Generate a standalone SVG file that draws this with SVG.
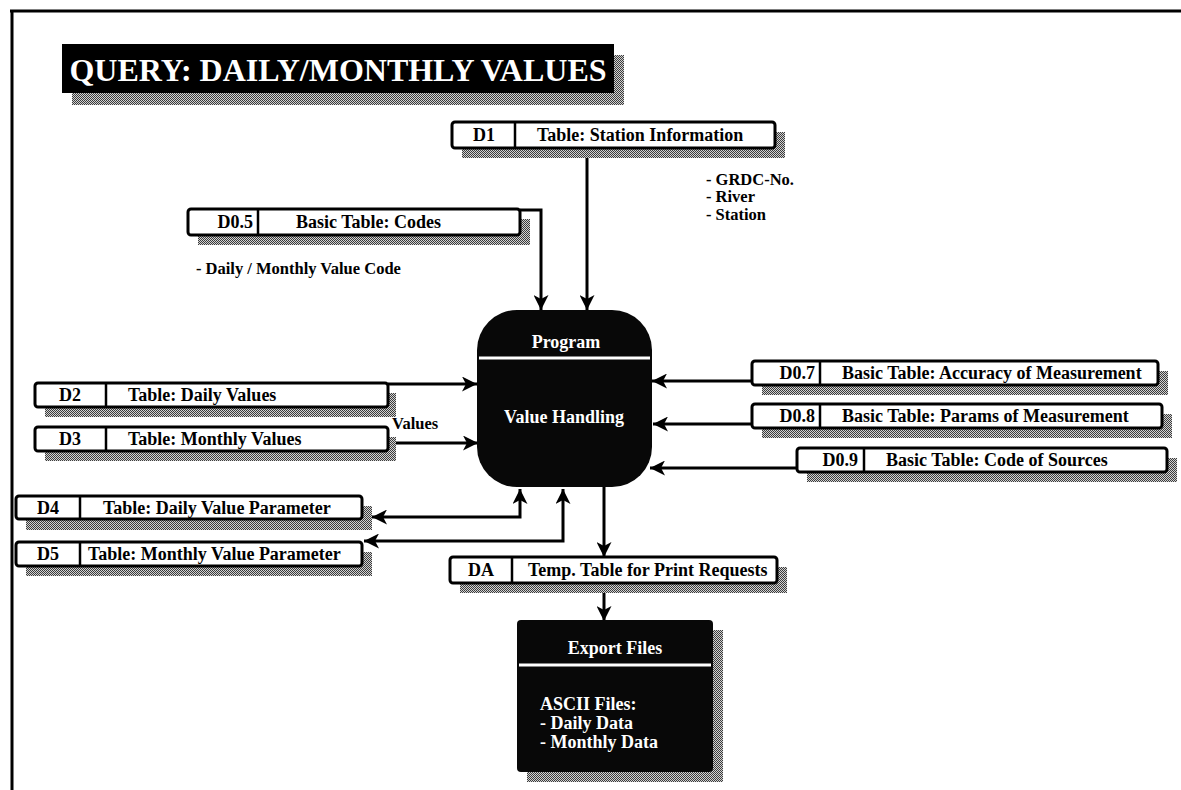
<svg xmlns="http://www.w3.org/2000/svg" width="1181" height="790" viewBox="0 0 1181 790">
  <defs>
    <!-- halftone grey used for drop shadows -->
    <pattern id="dither" width="2" height="2" patternUnits="userSpaceOnUse">
      <rect width="2" height="2" fill="#d2d2d2"/>
      <rect x="0" y="0" width="1" height="1" fill="#3c3c3c"/>
      <rect x="1" y="1" width="1" height="1" fill="#3c3c3c"/>
    </pattern>
    <marker id="arrow" markerUnits="userSpaceOnUse" markerWidth="16" markerHeight="15" refX="15" refY="7.5" orient="auto">
      <path d="M0,0 L15,7.5 L0,15 L4,7.5 Z" fill="#000"/>
    </marker>
    <marker id="arrowStart" markerUnits="userSpaceOnUse" markerWidth="16" markerHeight="15" refX="0" refY="7.5" orient="auto">
      <path d="M15,0 L0,7.5 L15,15 L11,7.5 Z" fill="#000"/>
    </marker>
  </defs>
  <style>
    text { font-family: "Liberation Serif", "Times New Roman", serif; font-weight: bold; }
    .shadow { fill: url(#dither); }
    .store { fill: #fff; stroke: #000; stroke-width: 3; }
    .divider { stroke: #000; stroke-width: 2.5; }
    .lbl { font-size: 18px; fill: #000; }
    .note { font-size: 16.5px; fill: #000; }
    .wtxt { font-size: 18px; fill: #fff; }
    .flow { fill: none; stroke: #000; stroke-width: 3; }
    .proc { fill: #080808; }
    .sep { stroke: #fff; stroke-width: 3; }
  </style>

  <rect width="1181" height="790" fill="#fff"/>
  <!-- page frame -->
  <path d="M10,11 H1181 M12,10 V790" fill="none" stroke="#000" stroke-width="3"/>

  <!-- heading -->
  <g id="title">
    <rect class="shadow" x="72" y="55" width="552" height="50"/>
    <rect x="62" y="44" width="552" height="49" fill="#000"/>
    <text x="338" y="81" font-size="32" fill="#fff" text-anchor="middle">QUERY: DAILY/MONTHLY VALUES</text>
  </g>

  <!-- connectors -->
  <g id="connectors">
    <path class="flow" d="M587,148 V310" marker-end="url(#arrow)"/>
    <path class="flow" d="M520,210 H541 V310" marker-end="url(#arrow)"/>
    <path class="flow" d="M388,384 H477" marker-end="url(#arrow)"/>
    <path class="flow" d="M390,443 H478" marker-end="url(#arrow)"/>
    <path class="flow" d="M752,381 H652" marker-end="url(#arrow)"/>
    <path class="flow" d="M752,424 H653" marker-end="url(#arrow)"/>
    <path class="flow" d="M797,468 H650" marker-end="url(#arrow)"/>
    <path class="flow" d="M372,517 H520 V489" marker-start="url(#arrowStart)" marker-end="url(#arrow)"/>
    <path class="flow" d="M364,541 H563 V489" marker-start="url(#arrowStart)" marker-end="url(#arrow)"/>
    <path class="flow" d="M604,487 V557" marker-end="url(#arrow)"/>
    <path class="flow" d="M604,583 V621" marker-end="url(#arrow)"/>
  </g>

  <!-- data stores -->
  <g id="d1">
    <rect class="shadow" x="462" y="132" width="323" height="26"/>
    <rect class="store" x="452" y="122" width="323" height="26" rx="3"/>
    <line class="divider" x1="515" y1="122" x2="515" y2="148"/>
    <text class="lbl" x="484" y="141" text-anchor="middle">D1</text>
    <text class="lbl" x="537" y="141">Table: Station Information</text>
  </g>
  <g id="d1-fields">
    <text class="note" x="706" y="185">- GRDC-No.</text>
    <text class="note" x="706" y="202">- River</text>
    <text class="note" x="706" y="220">- Station</text>
  </g>

  <g id="d05">
    <rect class="shadow" x="198" y="219" width="332" height="26"/>
    <rect class="store" x="188" y="209" width="332" height="26" rx="3"/>
    <line class="divider" x1="258" y1="209" x2="258" y2="235"/>
    <text class="lbl" x="253" y="228" text-anchor="end">D0.5</text>
    <text class="lbl" x="296" y="228">Basic Table: Codes</text>
  </g>
  <text id="d05-field" class="note" x="196" y="274">- Daily / Monthly Value Code</text>

  <g id="d2">
    <rect class="shadow" x="45" y="393" width="351" height="24"/>
    <rect class="store" x="35" y="383" width="353" height="24" rx="3"/>
    <line class="divider" x1="106" y1="383" x2="106" y2="407"/>
    <text class="lbl" x="70" y="401" text-anchor="middle">D2</text>
    <text class="lbl" x="128" y="401">Table: Daily Values</text>
  </g>
  <text id="values-label" class="note" x="392" y="429">Values</text>

  <g id="d3">
    <rect class="shadow" x="45" y="437" width="351" height="24"/>
    <rect class="store" x="35" y="427" width="353" height="24" rx="3"/>
    <line class="divider" x1="106" y1="427" x2="106" y2="451"/>
    <text class="lbl" x="70" y="445" text-anchor="middle">D3</text>
    <text class="lbl" x="128" y="445">Table: Monthly Values</text>
  </g>

  <g id="d4">
    <rect class="shadow" x="26" y="506" width="346" height="24"/>
    <rect class="store" x="16" y="496" width="346" height="23" rx="3"/>
    <line class="divider" x1="80" y1="496" x2="80" y2="519"/>
    <text class="lbl" x="48" y="514" text-anchor="middle">D4</text>
    <text class="lbl" x="103" y="514">Table: Daily Value Parameter</text>
  </g>

  <g id="d5">
    <rect class="shadow" x="26" y="552" width="346" height="24"/>
    <rect class="store" x="16" y="542" width="346" height="24" rx="3"/>
    <line class="divider" x1="80" y1="542" x2="80" y2="566"/>
    <text class="lbl" x="48" y="560" text-anchor="middle">D5</text>
    <text class="lbl" x="88" y="560">Table: Monthly Value Parameter</text>
  </g>

  <g id="d07">
    <rect class="shadow" x="762" y="371" width="406" height="24"/>
    <rect class="store" x="752" y="361" width="406" height="24" rx="3"/>
    <line class="divider" x1="820" y1="361" x2="820" y2="385"/>
    <text class="lbl" x="815" y="379" text-anchor="end">D0.7</text>
    <text class="lbl" x="842" y="379">Basic Table: Accuracy of Measurement</text>
  </g>

  <g id="d08">
    <rect class="shadow" x="762" y="414" width="410" height="24"/>
    <rect class="store" x="752" y="404" width="410" height="24" rx="3"/>
    <line class="divider" x1="820" y1="404" x2="820" y2="428"/>
    <text class="lbl" x="815" y="422" text-anchor="end">D0.8</text>
    <text class="lbl" x="842" y="422">Basic Table: Params of Measurement</text>
  </g>

  <g id="d09">
    <rect class="shadow" x="807" y="458" width="370" height="24"/>
    <rect class="store" x="797" y="448" width="370" height="24" rx="3"/>
    <line class="divider" x1="864" y1="448" x2="864" y2="472"/>
    <text class="lbl" x="858" y="466" text-anchor="end">D0.9</text>
    <text class="lbl" x="886" y="466">Basic Table: Code of Sources</text>
  </g>

  <g id="da">
    <rect class="shadow" x="460" y="567" width="327" height="26"/>
    <rect class="store" x="450" y="557" width="327" height="26" rx="3"/>
    <line class="divider" x1="512" y1="557" x2="512" y2="583"/>
    <text class="lbl" x="481" y="576" text-anchor="middle">DA</text>
    <text class="lbl" x="528" y="576">Temp. Table for Print Requests</text>
  </g>

  <!-- processes -->
  <g id="program">
    <rect class="proc" x="477" y="310" width="175" height="177" rx="40"/>
    <line class="sep" x1="479" y1="358" x2="650" y2="358"/>
    <text class="wtxt" x="566" y="348" text-anchor="middle">Program</text>
    <text class="wtxt" x="564" y="423" text-anchor="middle">Value Handling</text>
  </g>

  <g id="export">
    <rect class="shadow" x="527" y="630" width="196" height="152"/>
    <rect class="proc" x="517" y="620" width="196" height="152" rx="4"/>
    <line class="sep" x1="519" y1="665" x2="711" y2="665"/>
    <text class="wtxt" x="615" y="654" text-anchor="middle">Export Files</text>
    <text class="wtxt" x="540" y="710">ASCII Files:</text>
    <text class="wtxt" x="540" y="729">- Daily Data</text>
    <text class="wtxt" x="540" y="748">- Monthly Data</text>
  </g>
</svg>
